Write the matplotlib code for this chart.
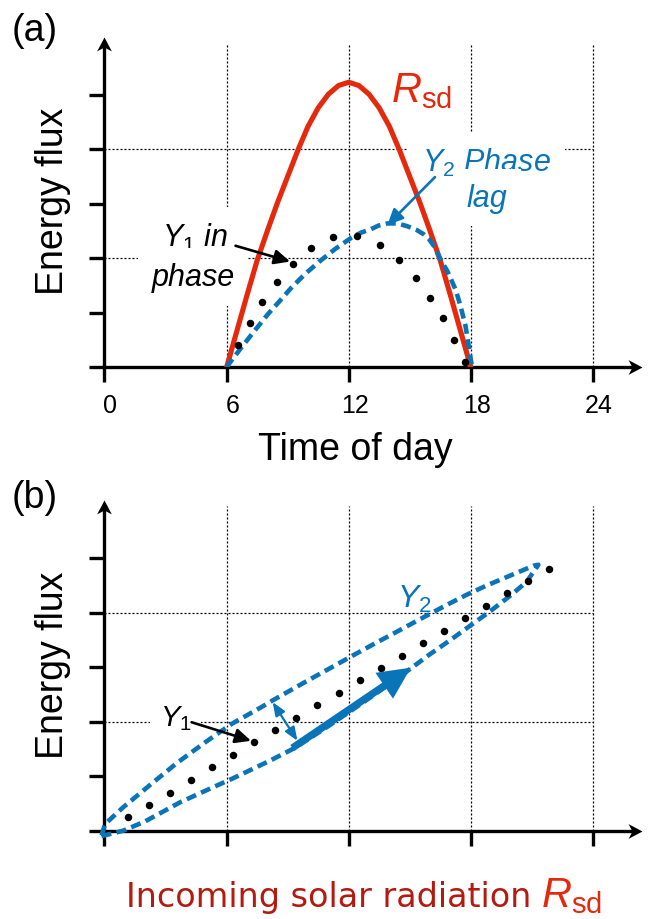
import matplotlib
matplotlib.use("Agg")
import matplotlib.pyplot as plt
from matplotlib.path import Path
from matplotlib.patches import FancyArrowPatch
from matplotlib.transforms import ScaledTranslation

plt.rcParams['font.family'] = ['Liberation Sans', 'DejaVu Sans']
plt.rcParams['mathtext.fontset'] = 'custom'
plt.rcParams['mathtext.rm'] = 'Liberation Sans'
plt.rcParams['mathtext.it'] = 'Liberation Sans:italic'
plt.rcParams['mathtext.bf'] = 'Liberation Sans:bold'

RED = '#e5290c'
DARKRED = '#b41a10'
BLUE = '#0a74b9'

# ---- values ----
hour_ticks = [0, 6, 12, 18, 24]
hour_labels = ['0', '6', '12', '18', '24']
flux_ticks = [0, 1, 2, 3, 4, 5]
grid_x = [6, 12, 18, 24]
grid_y = [2, 4]

# (a) diurnal course
rsd_hours = [6.0, 6.5, 7.0, 7.5, 8.0, 8.5, 9.0, 9.5, 10.0, 10.5, 11.0, 11.5, 12.0,
             12.5, 13.0, 13.5, 14.0, 14.5, 15.0, 15.5, 16.0, 16.5, 17.0, 17.5, 18.0]
rsd_flux = [0.0, 0.66, 1.32, 1.96, 2.50, 3.02, 3.50, 3.98, 4.42, 4.76, 5.01, 5.17, 5.23,
            5.17, 5.01, 4.76, 4.42, 3.98, 3.50, 3.02, 2.50, 1.96, 1.32, 0.66, 0.0]

y1_hours = [6.58, 7.15, 7.75, 8.46, 9.25, 10.15, 11.21, 12.39, 13.54, 14.49, 15.29,
            16.0, 16.62, 17.17, 17.71]
y1_flux = [0.41, 0.81, 1.19, 1.57, 1.90, 2.19, 2.39, 2.41, 2.25, 1.97, 1.64,
           1.28, 0.90, 0.50, 0.09]

y2_hours = [6.0, 6.17, 6.74, 7.31, 8.04, 8.62, 9.18, 9.85, 10.59, 11.33, 12.14, 12.6,
            13.07, 13.46, 13.9, 14.36, 14.87, 15.34, 15.69, 15.95, 16.18, 16.51, 16.84,
            17.25, 17.49, 17.74, 17.9, 18.06]
y2_flux = [0.0, 0.09, 0.37, 0.64, 0.98, 1.22, 1.46, 1.71, 1.95, 2.17, 2.38, 2.47,
           2.53, 2.60, 2.64, 2.64, 2.59, 2.52, 2.44, 2.35, 2.23, 1.98, 1.77,
           1.43, 1.13, 0.76, 0.39, 0.0]

# (b) flux against incoming solar radiation
y1b_rsd = [1.14, 2.19, 3.22, 4.25, 5.27, 6.33, 7.36, 8.38, 9.41, 10.46, 11.52,
           12.56, 13.57, 14.60, 15.67, 16.68, 17.71, 18.75, 19.79, 20.83, 21.86]
y1b_flux = [0.25, 0.48, 0.70, 0.93, 1.16, 1.39, 1.62, 1.85, 2.07, 2.31, 2.53,
            2.76, 2.99, 3.21, 3.44, 3.67, 3.90, 4.13, 4.36, 4.58, 4.81]

y2_morning_rsd = [-0.15, 0.92, 1.99, 3.71, 5.35, 6.25, 8.05, 9.36, 11.0, 12.5, 14.0,
                  15.17, 16.0, 17.0, 18.0, 19.0, 20.0, 20.75, 21.32]
y2_morning_flux = [-0.10, 0.00, 0.17, 0.52, 0.80, 0.95, 1.27, 1.52, 1.92, 2.30, 2.69,
                   3.01, 3.24, 3.50, 3.77, 4.04, 4.33, 4.57, 4.88]
y2_afternoon_rsd = [21.32, 21.07, 19.93, 18.78, 17.80, 16.65, 15.50, 14.36, 13.21, 12.23,
                    11.27, 10.01, 8.26, 7.72, 6.25, 4.94, 3.55, 2.24, 0.92, 0.02, -0.15]
y2_afternoon_flux = [4.88, 4.86, 4.68, 4.50, 4.33, 4.11, 3.88, 3.65, 3.42, 3.22,
                     3.02, 2.76, 2.39, 2.27, 1.96, 1.62, 1.24, 0.84, 0.43, 0.12, -0.10]

W, H = 649, 920
XMAX, YMAX = 26.4, 6.06
PX_X, PX_Y = 20.35, 54.5

fig = plt.figure(figsize=(W / 100, H / 100), dpi=100)

codes = [Path.MOVETO, Path.LINETO, Path.LINETO, Path.LINETO, Path.CLOSEPOLY]
up_head = Path([(0, 0), (0.53, -1), (0, -0.72), (-0.53, -1), (0, 0)], codes)
right_head = Path([(0, 0), (-1, 0.53), (-0.72, 0), (-1, -0.53), (0, 0)], codes)


def make_axes(axis_row):
    ax = fig.add_axes([104.5 / W, 1 - axis_row / H, XMAX * PX_X / W, YMAX * PX_Y / H])
    ax.set_xlim(0, XMAX)
    ax.set_ylim(0, YMAX)
    ax.patch.set_visible(False)
    ax.spines[['top', 'right']].set_visible(False)
    for s in ['left', 'bottom']:
        ax.spines[s].set_linewidth(2.4)
        ax.spines[s].set_capstyle('butt')
    ax.spines['left'].set_bounds(0, YMAX - 0.12)
    ax.spines['bottom'].set_bounds(0, XMAX - 0.3)
    ax.set_xticks(hour_ticks)
    ax.set_yticks(flux_ticks)
    ax.set_yticklabels([])
    ax.tick_params(direction='out', length=10.8, width=2.4, labelsize=18, pad=8)
    ax.plot([0], [YMAX], marker=up_head, ms=20, mew=0, color='k', clip_on=False, zorder=6)
    ax.plot([XMAX], [0], marker=right_head, ms=20, mew=0, color='k', clip_on=False, zorder=6)
    ax.vlines(grid_x, 0, 5.95, colors='k', linestyles=(0, (1.6, 1.6)), lw=0.9, zorder=1)
    ax.hlines(grid_y, 0, 24, colors='k', linestyles=(0, (1.6, 1.6)), lw=0.9, zorder=1)
    ax.set_ylabel('Energy flux', fontsize=27, va='center')
    ax.yaxis.set_label_coords(-2.53 / XMAX, 3.06 / YMAX)
    return ax


def arrow(ax, tail, tip, color, style, lw, scale=20):
    ax.annotate('', xy=tip, xytext=tail,
                arrowprops=dict(arrowstyle=style, color=color, lw=lw,
                                mutation_scale=scale, shrinkA=0, shrinkB=0),
                zorder=7)


box = dict(facecolor='white', edgecolor='none', pad=10)

# ---------------- (a) ----------------
ax1 = make_axes(368.3)
ax1.set_xticklabels(hour_labels)
shift = ScaledTranslation(6 / 100, 0, fig.dpi_scale_trans)
for lab in ax1.get_xticklabels():
    lab.set_transform(lab.get_transform() + shift)

ax1.plot(rsd_hours, rsd_flux, color=RED, lw=3.7, zorder=3)
ax1.plot(y2_hours, y2_flux, color=BLUE, lw=3.3, dashes=(2.2, 1.2), zorder=4)
ax1.plot(y1_hours, y1_flux, 'o', color='k', ms=5.4, mew=0, zorder=5)

ax1.text(14.1, 4.89, r'$R_\mathrm{sd}$', color=RED, fontsize=30, ha='left', va='baseline')
ax1.text(18.78, 3.607, r'$Y_2$ Phase', color=BLUE, fontsize=22, style='italic',
         ha='center', va='baseline', bbox=box, zorder=2)
ax1.text(18.78, 2.965, 'lag', color=BLUE, fontsize=22, style='italic',
         ha='center', va='baseline', bbox=box, zorder=2)
ax1.text(4.45, 2.23, r'$Y_1$ in', color='k', fontsize=22, style='italic',
         ha='center', va='baseline', bbox=box, zorder=2)
ax1.text(4.35, 1.51, 'phase', color='k', fontsize=22, style='italic',
         ha='center', va='baseline', bbox=box, zorder=2)

arrow(ax1, (6.44, 2.23), (9.12, 1.94), 'k', '-|>,head_length=0.47,head_width=0.22', 1.9)
arrow(ax1, (16.24, 3.49), (13.9, 2.61), BLUE, '-|>,head_length=0.47,head_width=0.22', 1.9)

ax1.set_xlabel('Time of day', fontsize=27, va='baseline')
ax1.xaxis.set_label_coords(12.31 / XMAX, -1.68 / YMAX)

fig.text(12 / W, 1 - 13 / H, '(a)', fontsize=27, ha='left', va='top')

# ---------------- (b) ----------------
ax2 = make_axes(831.7)
ax2.set_xticklabels([])

ax2.plot(y2_morning_rsd + y2_afternoon_rsd, y2_morning_flux + y2_afternoon_flux,
         color=BLUE, lw=3.3, dashes=(2.2, 1.2), zorder=4, clip_on=False)
ax2.plot(y1b_rsd, y1b_flux, 'o', color='k', ms=5.4, mew=0, zorder=5)

ax2.add_patch(FancyArrowPatch((9.12, 1.49), (15.17, 3.02),
                              arrowstyle='simple,head_length=1.6,head_width=1.55,tail_width=0.36',
                              mutation_scale=14.5, color=BLUE, lw=0, zorder=6))
arrow(ax2, (8.26, 2.36), (9.48, 1.65), BLUE, '<|-|>,head_length=0.4,head_width=0.16', 1.6)
arrow(ax2, (4.28, 1.99), (7.2, 1.65), 'k', '-|>,head_length=0.47,head_width=0.22', 1.9)

ax2.text(2.73, 1.93, r'$Y_1$', color='k', fontsize=21, ha='left', va='baseline',
         bbox=dict(facecolor='white', edgecolor='none', pad=7), zorder=2)
ax2.text(14.36, 4.10, r'$Y_2$', color=BLUE, fontsize=23, ha='left', va='baseline')

ax2.set_xlabel('Incoming solar radiation', fontsize=24, color=DARKRED, ha='right',
               va='baseline', family='DejaVu Sans')
ax2.xaxis.set_label_coords(20.99 / XMAX, -1.376 / YMAX)
ax2.text(21.45, -1.376, r'$R_\mathrm{sd}$', color=RED, fontsize=30, ha='left',
         va='baseline', clip_on=False)

fig.text(12 / W, 1 - 480 / H, '(b)', fontsize=27, ha='left', va='top')

fig.savefig('out.png', dpi=100)
